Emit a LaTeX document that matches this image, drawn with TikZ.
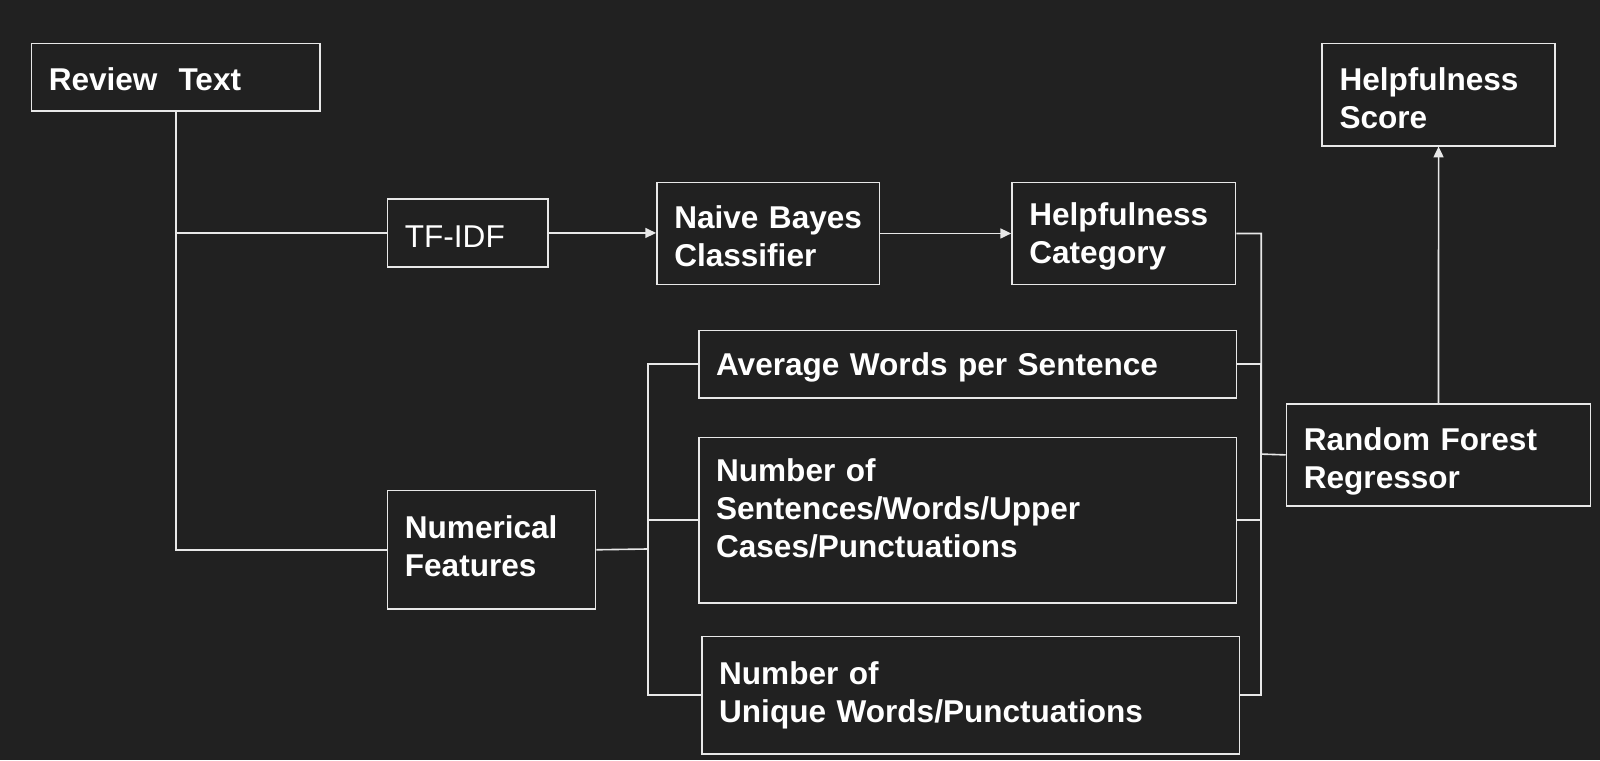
\documentclass[tikz,border=0pt]{standalone}
\usepackage{fontspec}
\setmainfont{Liberation Sans}
\usetikzlibrary{arrows.meta}
\definecolor{bg}{HTML}{212121}
\definecolor{ln}{HTML}{E8E8E8}
\newcommand{\topstrut}{\rule{0pt}{16.2pt}}
\begin{document}
\begin{tikzpicture}[x=0.02cm,y=-0.02cm,
  box/.style={draw=ln, line width=0.9pt, anchor=north west, align=left,
    inner xsep=0.34cm, inner ysep=0pt, text=white,
    font=\fontsize{17.6}{21.2}\selectfont\bfseries},
  conn/.style={draw=ln, line width=0.9pt},
  arr/.style={conn, -{Triangle[length=6pt,width=5.5pt]}}]
\fill[bg] (0,0) rectangle (1568,745);
\useasboundingbox (0,0) rectangle (1568,745);
\node[box, minimum width=5.66cm, minimum height=1.32cm, text width=4.98cm] (rt) at (30,42) {\rule{0pt}{15pt}Review\ \ Text};
\node[box, minimum width=4.56cm, minimum height=2.0cm, text width=3.88cm] (hs) at (1295,42) {\topstrut Helpfulness\\Score};
\node[box, minimum width=3.14cm, minimum height=1.34cm, text width=2.46cm, font=\fontsize{17.6}{21.2}\selectfont] (tf) at (379,194) {\topstrut TF-IDF};
\node[box, minimum width=4.36cm, minimum height=2.0cm, text width=3.68cm] (nb) at (643,178) {\topstrut\mbox{Naive Bayes}\\Classifier};
\node[box, minimum width=4.38cm, minimum height=2.0cm, text width=3.70cm] (hc) at (991,178) {\topstrut Helpfulness\\Category};
\node[box, minimum width=10.54cm, minimum height=1.32cm, text width=9.86cm] (aw) at (684,323) {\topstrut Average Words per Sentence};
\node[box, minimum width=10.54cm, minimum height=3.24cm, text width=9.86cm] (ns) at (684,428) {\topstrut Number of\\Sentences/Words/Upper\\Cases/Punctuations\rule[-17.5pt]{0pt}{1pt}};
\node[box, minimum width=10.54cm, minimum height=2.30cm, text width=9.86cm] (uw) at (687,623) {Number of\\Unique Words/Punctuations};
\node[box, minimum width=4.08cm, minimum height=2.32cm, text width=3.40cm] (nf) at (379,480) {Numerical\\Features\rule[-4pt]{0pt}{1pt}};
\node[box, minimum width=5.96cm, minimum height=2.0cm, text width=5.28cm] (rf) at (1260,395) {\rule{0pt}{19.6pt}Random Forest\\Regressor};
\coordinate (rbus) at (1236,445);
\coordinate (lbus) at (635,538);
\draw[conn] (rt.south) |- (tf.west);
\draw[conn] (rt.south) |- (nf.west);
\draw[arr] (tf.east) -- (tf.east -| nb.west);
\draw[arr] (nb.east) -- (hc.west);
\draw[conn] (hc.east) -| (rbus) -- (rf.west);
\draw[conn] (aw.east) -| (rbus);
\draw[conn] (ns.east) -| (rbus);
\draw[conn] (uw.east) -| (rbus);
\draw[conn] (nf.east) -- (lbus);
\draw[conn] (lbus) |- (aw.west);
\draw[conn] (lbus) |- (ns.west);
\draw[conn] (lbus) |- (uw.west);
\draw[arr] (rf.north) -- (hs.south);
\end{tikzpicture}
\end{document}
